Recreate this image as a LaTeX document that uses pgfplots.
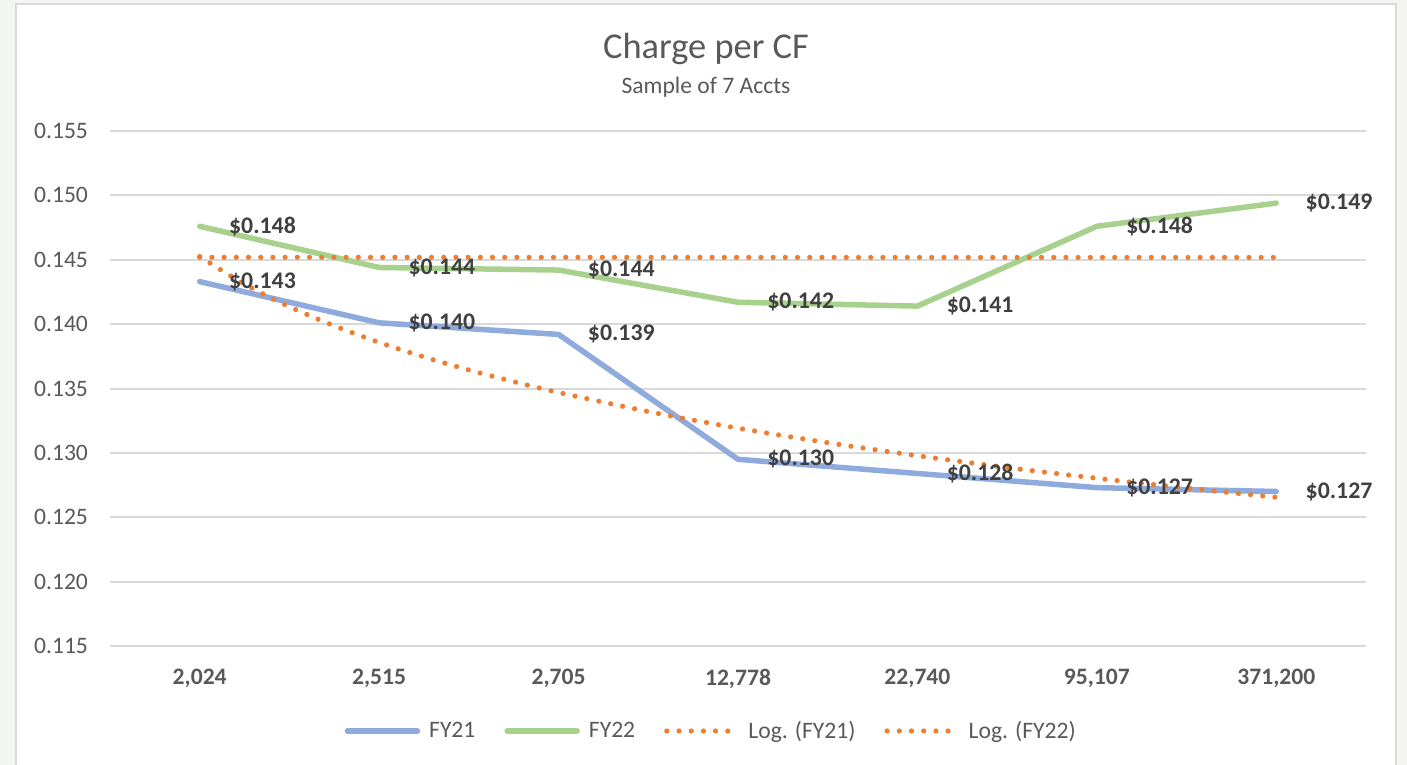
\documentclass[border=0pt]{standalone}
\usepackage{fontspec}
\setmainfont{Carlito}
\usepackage{pgfplots}
\pgfplotsset{compat=1.18}
\definecolor{bgc}{HTML}{F3F5F2}
\definecolor{framec}{HTML}{D9D9D9}
\definecolor{gridc}{HTML}{D9D9D9}
\definecolor{textc}{HTML}{595959}
\definecolor{labc}{HTML}{404040}
\definecolor{fyblue}{HTML}{8FAADC}
\definecolor{fygreen}{HTML}{A9D18E}
\definecolor{trorange}{HTML}{ED7D31}
\begin{document}
\begin{tikzpicture}
\useasboundingbox (0pt,0pt) rectangle (703.5pt,-382.5pt);
\clip (0pt,0pt) rectangle (703.5pt,-382.5pt);
\fill[bgc] (0pt,0pt) rectangle (703.5pt,-382.5pt);
\draw[fill=white, draw=framec, line width=1.3pt] (8pt,-2pt) rectangle (698pt,-400pt);
\node[font=\fontsize{18.2pt}{20pt}\selectfont, text=textc, anchor=base] at (353pt,-29.5pt) {Charge per CF};
\node[font=\fontsize{11.8pt}{13pt}\selectfont, text=textc, anchor=base] at (353pt,-47pt) {Sample of 7 Accts};
\begin{axis}[
  at={(55pt,-323pt)}, anchor=south west,
  scale only axis, width=628pt, height=257.5pt,
  xmin=-0.5, xmax=6.5, ymin=0.115, ymax=0.155,
  clip=false,
  /pgf/number format/assume math mode=true,
  axis line style={draw=none},
  major tick length=0pt,
  ymajorgrids, grid style={color=gridc, line width=1pt},
  xtick={0,1,2,3,4,5,6},
  xticklabels={{2,024},{2,515},{2,705},{12,778},{22,740},{95,107},{371,200}},
  ytick={0.115,0.120,0.125,0.130,0.135,0.140,0.145,0.150,0.155},
  yticklabel style={font=\fontsize{11.8pt}{13pt}\selectfont, text=textc, xshift=-7.5pt,
     /pgf/number format/fixed, /pgf/number format/fixed zerofill, /pgf/number format/precision=3},
  xticklabel style={font=\fontsize{11.8pt}{13pt}\selectfont\bfseries, text=textc, yshift=-8pt},
  legend style={at={(0.4795,-0.165)}, anchor=center, draw=none, fill=none,
     font=\fontsize{11.8pt}{13pt}\selectfont, text=textc,
     /tikz/every odd column/.append style={column sep=2.5pt},
     /tikz/every even column/.append style={column sep=12.5pt}},
  legend columns=4,
  legend cell align=left,
  legend image code/.code={\draw[#1] (0pt,0pt) -- (35pt,0pt);},
  nodes near coords={\$\pgfmathprintnumber[fixed,fixed zerofill,precision=3]{\pgfplotspointmeta}},
  nodes near coords style={anchor=west, xshift=10pt, font=\fontsize{11.9pt}{13pt}\selectfont\bfseries, text=labc},
]
\addplot[color=fyblue, line width=2.75pt, line join=round, line cap=round] coordinates {
  (0,0.1433) (1,0.1401) (2,0.1392) (3,0.1295) (4,0.1284) (5,0.1273) (6,0.1270)};
\addlegendentry{FY21}
\addplot[color=fygreen, line width=2.75pt, line join=round, line cap=round] coordinates {
  (0,0.1476) (1,0.1444) (2,0.1442) (3,0.1417) (4,0.1414) (5,0.1476) (6,0.1494)};
\addlegendentry{FY22}
\addplot[color=trorange, line width=2.6pt, line cap=round, dash pattern=on 0pt off 6.1pt, smooth, nodes near coords={}] coordinates {
  (0,0.14525) (0.25,0.14310) (0.5,0.14135) (0.75,0.13987) (1,0.13858) (1.25,0.13745)
  (1.5,0.13644) (1.75,0.13553) (2,0.13469) (2.5,0.13321) (3,0.13192) (3.5,0.13079)
  (4,0.12978) (4.5,0.12886) (5,0.12803) (5.5,0.12726) (6,0.12655)};
\addlegendentry{Log. (FY21)}
\addplot[color=trorange, line width=2.6pt, line cap=round, dash pattern=on 0pt off 6.1pt, nodes near coords={}] coordinates {
  (0,0.14519) (6,0.14518)};
\addlegendentry{Log. (FY22)}
\end{axis}
\end{tikzpicture}
\end{document}
